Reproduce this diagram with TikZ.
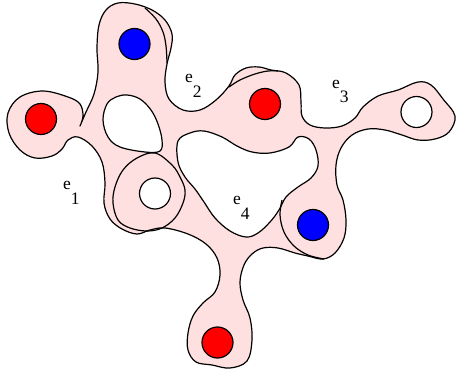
\documentclass[tikz,border=0pt]{standalone}
\usepackage{fontspec}
\setmainfont{Liberation Serif}
\definecolor{ink}{HTML}{000000}
\definecolor{hedgefill}{HTML}{FFE0E0}
\definecolor{vred}{HTML}{FF0000}
\definecolor{vblue}{HTML}{0000FF}
\newcommand{\labelfont}{\fontsize{17.5}{19}\selectfont}
\tikzset{
 hedge/.style={fill=hedgefill,even odd rule},
 rim/.style={draw=ink,line width=1.2pt,line join=round},
 vertex/.style={circle,draw=ink,line width=1.2pt,minimum size=31pt,inner sep=0pt},
 redv/.style={vertex,fill=vred},
 bluev/.style={vertex,fill=vblue},
 whitev/.style={vertex,fill=white},
 elabel/.style={font=\labelfont,inner sep=0pt,anchor=base west},
}

\begin{document}
\begin{tikzpicture}[x=1pt,y=-1pt]
\useasboundingbox (0,0) rectangle (456,372);

% the hyperedges, outer outline and the two holes
\path[hedge,rim]
  plot[smooth,tension=.6] coordinates {(80,126) (86,112) (94,94) (98,72) (97,48) (99,25) (106,10) (118,3)
    (135,4) (152,10) (165,20) (172,34) (171,48) (167,64) (165,82) (169,99) (183,110) (200,110) (216,100)
    (229,86) (235,75) (246,68) (259,67) (271,70) (286,73) (299,85) (301,102) (302,116) (310,125) (325,128)
    (342,126) (355,118) (363,107) (378,96) (398,90) (418,82) (431,85) (443,99) (455,116) (449,132)
    (435,139) (418,140) (402,135) (385,130) (368,129) (352,135) (341,148) (336,165) (337,185)
    (343,200) (346,220) (344,238) (335,253) (323,259) (308,256) (295,253) (278,248) (263,248)
    (252,254) (244,265) (240,282) (243,300) (250,318) (252,340) (247,361) (230,368) (212,365)
    (196,362) (188,350) (188,333) (193,316) (203,303) (215,292) (220,275) (217,258) (206,244)
    (188,234) (165,228) (150,230) (137,234) (122,229) (110,219) (104,203) (105,183) (102,162)
    (92,146) (78,137) (68,140) (62,149) (52,156) (35,158) (20,150) (9,133) (8,113) (20,97)
    (43,91) (68,97) (80,104) (83,116) (80,126)} -- cycle
  plot[smooth cycle,tension=.6] coordinates {(127,95) (140,99) (151,110) (158,124) (162,140)
    (160,151) (145,152) (120,147) (108,137) (103,120) (107,104) (116,97)}
  plot[smooth cycle,tension=.6] coordinates {(178,141) (190,133) (204,131) (222,137) (237,146)
    (252,152) (270,153) (289,147) (298,137) (309,139) (316,150) (318,166) (311,178) (298,187)
    (286,197) (279,210) (270,222) (258,233) (246,237) (230,231) (215,218) (204,202) (195,189)
    (185,177) (178,162)};

% overlapping edge outlines
\draw[rim] plot[smooth cycle,tension=.6] coordinates {(155,153) (172,165) (180,177) (185,190)
  (183,203) (175,218) (162,228) (147,231) (130,228) (118,220) (113,203) (115,187) (123,170) (137,158)};
\draw[rim] plot[smooth,tension=.6] coordinates {(282,200) (280,215) (284,232) (294,246) (308,255) (324,259)};
\draw[rim] plot[smooth,tension=.6] coordinates {(229,87) (240,80) (255,74) (268,71) (278,71)};
\draw[rim] plot[smooth,tension=.6] coordinates {(145,8) (156,19) (163,32) (166,46) (167,63)};

% vertices
\node[redv] (rleft) at (41,119) {};
\node[bluev] (btop) at (134.5,44) {};
\node[redv] (rmid) at (265,104) {};
\node[whitev] (wright) at (416.5,112) {};
\node[whitev] (wmid) at (155,193.5) {};
\node[bluev] (bright) at (313,225) {};
\node[redv] (rbottom) at (217.5,342.5) {};

% edge names
\node[elabel] (e1) at (63,189) {e\raisebox{-15pt}{1}};
\node[elabel] (e2) at (185,82) {e\raisebox{-15pt}{2}};
\node[elabel] (e3) at (332,88) {e\raisebox{-15pt}{3}};
\node[elabel] (e4) at (233,204) {e\raisebox{-15pt}{4}};

\end{tikzpicture}
\end{document}
